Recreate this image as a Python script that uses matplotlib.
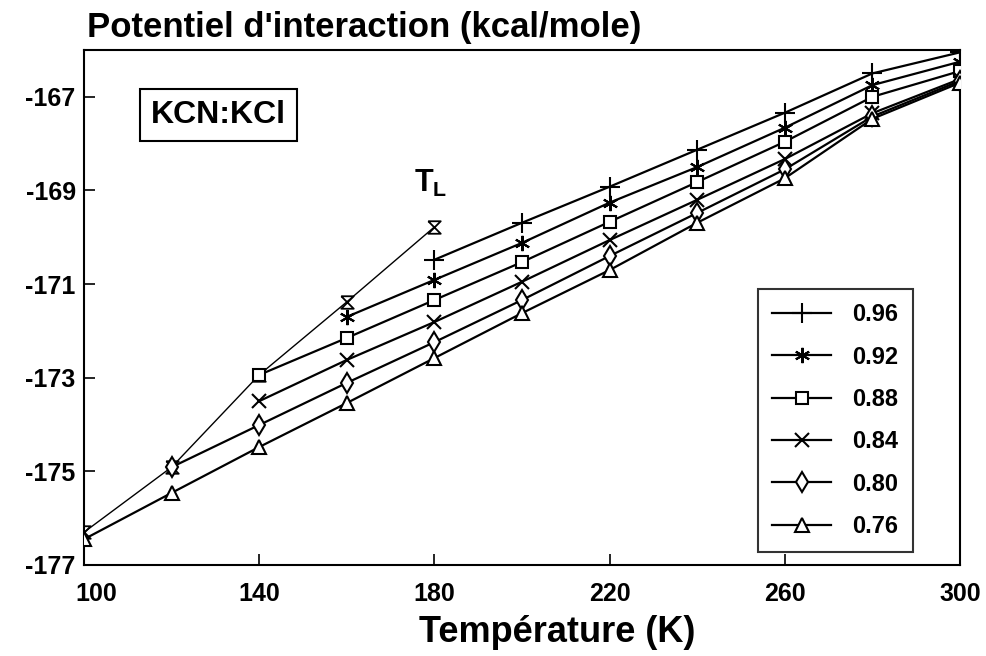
import matplotlib
matplotlib.use("Agg")
import matplotlib.pyplot as plt
from matplotlib.path import Path
from matplotlib.transforms import ScaledTranslation

plt.rcParams['font.family'] = ['Liberation Sans', 'DejaVu Sans']
plt.rcParams['font.weight'] = 'bold'
plt.rcParams['mathtext.fontset'] = 'custom'
plt.rcParams['mathtext.bf'] = 'Liberation Sans:bold'
plt.rcParams['mathtext.rm'] = 'Liberation Sans:bold'

# ---- data ----
tl_T = [100, 120, 140, 160, 180]
tl_V = [-176.30, -174.91, -172.94, -171.38, -169.78]

labels = ["0.96", "0.92", "0.88", "0.84", "0.80", "0.76"]

T_096 = [180, 200, 220, 240, 260, 280, 300]
V_096 = [-170.48, -169.69, -168.92, -168.13, -167.34, -166.50, -166.05]

T_092 = [160, 180, 200, 220, 240, 260, 280, 300]
V_092 = [-171.70, -170.91, -170.12, -169.26, -168.50, -167.66, -166.75, -166.25]

T_088 = [140, 160, 180, 200, 220, 240, 260, 280, 300]
V_088 = [-172.94, -172.15, -171.34, -170.53, -169.67, -168.82, -167.96, -167.00, -166.45]

T_084 = [140, 160, 180, 200, 220, 240, 260, 280, 300]
V_084 = [-173.50, -172.62, -171.81, -170.95, -170.06, -169.20, -168.33, -167.35, -166.62]

T_080 = [120, 140, 160, 180, 200, 220, 240, 260, 280, 300]
V_080 = [-174.91, -174.01, -173.11, -172.24, -171.34, -170.40, -169.48, -168.55, -167.42, -166.66]

T_076 = [100, 120, 140, 160, 180, 200, 220, 240, 260, 280, 300]
V_076 = [-176.45, -175.46, -174.48, -173.54, -172.58, -171.62, -170.70, -169.69, -168.74, -167.47, -166.70]

xticks = [100, 140, 180, 220, 260, 300]
yticks = [-167, -169, -171, -173, -175, -177]

series = [(T_096, V_096), (T_092, V_092), (T_088, V_088),
          (T_084, V_084), (T_080, V_080), (T_076, V_076)]
markers = ['+', (6, 2, 0), 's', 'x', 'd', '^']
msizes = [14, 11, 9, 10, 10, 10]

hourglass = Path([(-1, 1), (1, 1), (-1, -1), (1, -1), (-1, 1)],
                 [Path.MOVETO, Path.LINETO, Path.LINETO, Path.LINETO, Path.LINETO])

fig = plt.figure(figsize=(9.86, 6.56), dpi=100)
ax = fig.add_axes([84/986, 91/656, 876/986, 515/656])

# T_L line
ax.plot(tl_T, tl_V, color='black', lw=1.0, marker=hourglass, ms=9,
        mfc='none', mec='black', mew=1.3, zorder=3)

for (T, V), lab, mk, ms in zip(series, labels, markers, msizes):
    ax.plot(T, V, color='black', lw=1.6, marker=mk, ms=ms, mfc='white',
            mec='black', mew=1.5, label=lab, zorder=4)

ax.set_xlim(100, 300)
ax.set_ylim(-177, -166)
ax.set_xticks(xticks)
ax.set_xticklabels([str(t) for t in xticks], fontsize=18, fontweight='bold')
ax.set_yticks(yticks)
ax.set_yticklabels(["-%d" % abs(t) for t in yticks], fontsize=18, fontweight='bold')
ax.tick_params(direction='in', length=8, width=1.2, pad=12)
ax.tick_params(axis='y', pad=6)
for s in ax.spines.values():
    s.set_linewidth(1.5)

# shift first x tick label right as in the reference
lbl0 = ax.get_xticklabels()[0]
lbl0.set_transform(lbl0.get_transform() + ScaledTranslation(12/100, 0, fig.dpi_scale_trans))

ax.set_xlabel("Température (K)", fontsize=26, fontweight='bold')
ax.xaxis.set_label_coords(0.54, -0.098)
fig.text(87/986, 1 - 28/656, "Potentiel d'interaction (kcal/mole)",
         fontsize=25, fontweight='bold', ha='left', va='center')

ax.text(0.1535, 0.874, "KCN:KCl", transform=ax.transAxes, fontsize=23,
        fontweight='bold', ha='center', va='center',
        bbox=dict(boxstyle='square,pad=0.35', fc='white', ec='black', lw=1.5))

ax.text(179.1, -168.84, r"$\mathbf{T_L}$", fontsize=22, ha='center', va='center')

leg = ax.legend(loc='lower right', bbox_to_anchor=(0.946, 0.025), fontsize=17,
                frameon=True, fancybox=False, edgecolor='black', handlelength=2.5,
                labelspacing=0.82, borderpad=0.6, handletextpad=0.9,
                borderaxespad=0)
leg.get_frame().set_linewidth(1.5)
for t in leg.get_texts():
    t.set_fontweight('bold')

fig.savefig("out.png", dpi=100)
